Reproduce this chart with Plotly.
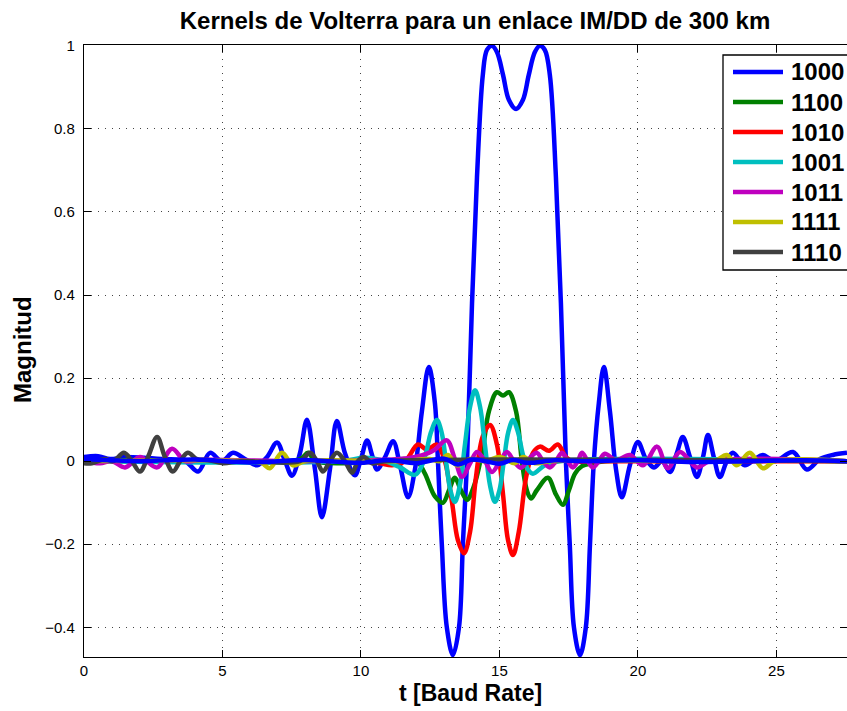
import plotly.graph_objects as go

# Volterra kernels for a 300 km IM/DD link (time in baud periods)
t_1000 = [0, 0.51, 0.94, 1.48, 2.20, 2.92, 3.65, 4.12, 4.55, 4.98, 5.38, 5.81, 6.25, 6.61, 6.97,
          7.26, 7.51, 7.80, 8.05, 8.34, 8.59, 8.88, 9.13, 9.42, 9.78, 10.00, 10.22, 10.40, 10.58,
          10.87, 11.16, 11.41, 11.70, 11.95, 12.20, 12.45, 12.67, 12.78, 12.92, 13.10, 13.32, 13.54,
          13.68, 13.83, 14.01, 14.19, 14.40, 14.55, 14.73, 14.91, 15.13, 15.34, 15.60, 15.85, 16.06,
          16.28, 16.46, 16.64, 16.82, 17.04, 17.22, 17.40, 17.54, 17.69, 17.91, 18.12, 18.27, 18.41,
          18.59, 18.77, 18.99, 19.21, 19.42, 19.71, 20.00, 20.29, 20.58, 20.87, 21.16, 21.41, 21.62,
          21.88, 22.13, 22.35, 22.53, 22.74, 22.96, 23.21, 23.43, 23.86, 24.22, 24.51, 24.95, 25.60,
          26.10, 26.57, 27.04, 27.55]
k_1000 = [0.01, 0.012, 0.005, 0.01, 0.008, 0.005, 0.0, -0.025, 0.02, 0.0, 0.02, 0.005, -0.01, 0.01,
          0.045, 0.0, -0.035, 0.02, 0.10, -0.02, -0.135, -0.02, 0.097, 0.02, -0.034, 0.005, 0.05,
          0.015, -0.02, 0.01, 0.048, -0.01, -0.087, -0.02, 0.12, 0.227, 0.14, 0.0, -0.2, -0.4, -0.467,
          -0.4, -0.2, 0.0, 0.38, 0.684, 0.93, 0.99, 1.0, 0.985, 0.93, 0.87, 0.848, 0.87, 0.93, 0.985,
          1.0, 0.99, 0.93, 0.684, 0.38, 0.0, -0.2, -0.4, -0.467, -0.4, -0.2, 0.0, 0.14, 0.227, 0.12,
          -0.02, -0.087, -0.01, 0.046, 0.005, -0.015, 0.0, -0.026, 0.02, 0.058, 0.01, -0.038, 0.01,
          0.063, 0.01, -0.038, 0.0, 0.02, -0.01, 0.005, 0.015, 0.0, 0.022, -0.02, 0.005, 0.015, 0.02]

t_1100 = [0, 1.59, 4.19, 7.80, 8.09, 8.38, 10.69, 11.59, 12.02, 12.31, 12.67, 12.96, 13.18, 13.39,
          13.61, 13.83, 14.08, 14.40, 14.62, 14.91, 15.13, 15.34, 15.60, 15.81, 15.99, 16.14, 16.35,
          16.75, 17.04, 17.29, 17.51, 17.73, 17.98, 18.34, 18.81, 27.55]
k_1100 = [0.0, 0.003, 0.0, 0.005, 0.02, 0.0, 0.0, 0.005, 0.0, -0.03, -0.085, -0.1, -0.07, -0.04,
          -0.07, -0.093, -0.06, 0.03, 0.12, 0.166, 0.158, 0.166, 0.12, 0.0, -0.07, -0.09, -0.07,
          -0.04, -0.08, -0.105, -0.07, -0.03, -0.012, -0.005, 0.0, 0.0]

t_1010 = [0, 7.80, 9.96, 10.69, 11.12, 11.59, 12.06, 12.38, 12.74, 13.03, 13.29, 13.50, 13.72, 13.94,
          14.15, 14.40, 14.66, 14.91, 15.13, 15.31, 15.49, 15.70, 15.96, 16.21, 16.46, 16.79, 17.11,
          17.40, 17.65, 18.63, 27.55]
k_1010 = [0.0, 0.0, 0.0, -0.005, -0.01, 0.0, 0.04, 0.028, 0.04, 0.0, -0.1, -0.19, -0.222, -0.17,
          -0.04, 0.06, 0.087, 0.04, -0.08, -0.19, -0.226, -0.17, -0.04, 0.02, 0.035, 0.025, 0.04,
          0.01, 0.0, 0.0, 0.0]

t_1001 = [0, 9.24, 10.14, 10.87, 11.41, 11.95, 12.17, 12.35, 12.53, 12.74, 12.91, 13.07, 13.23, 13.39,
          13.57, 13.75, 13.94, 14.12, 14.30, 14.48, 14.66, 14.84, 15.00, 15.16, 15.32, 15.49, 15.67,
          15.85, 16.03, 16.21, 16.64, 17.18, 27.55]
k_1001 = [0.0, 0.0, 0.008, 0.0, -0.015, -0.033, -0.015, 0.02, 0.07, 0.099, 0.07, 0.0, -0.07, -0.098,
          -0.058, 0.037, 0.131, 0.171, 0.131, 0.037, -0.058, -0.098, -0.07, 0.0, 0.07, 0.099, 0.07,
          0.015, -0.02, -0.03, -0.01, 0.0, 0.0]

t_1011 = [0, 0.58, 1.01, 1.48, 2.02, 2.64, 3.18, 3.65, 4.19, 7.80, 11.41, 11.95, 12.38, 12.67, 13.10,
          13.39, 13.65, 13.94, 14.19, 14.48, 14.73, 15.02, 15.27, 15.52, 15.78, 16.06, 16.35, 16.57,
          16.82, 17.04, 17.26, 17.47, 17.65, 17.83, 17.98, 18.19, 18.38, 18.59, 18.81, 19.21, 19.71,
          20.18, 20.69, 21.08, 21.52, 22.13, 22.60, 27.55]
k_1011 = [0.0, -0.005, 0.0, -0.015, 0.01, -0.015, 0.03, 0.0, 0.003, 0.0, 0.005, 0.01, 0.018, 0.028,
          0.05, 0.005, -0.038, -0.005, 0.022, 0.0, -0.026, 0.0, 0.022, 0.0, -0.016, 0.005, 0.02, 0.0,
          -0.015, 0.0, 0.02, 0.0, -0.015, 0.0, 0.02, 0.0, -0.015, 0.0, 0.018, 0.002, 0.015, -0.01,
          0.035, -0.017, 0.022, -0.015, 0.0, 0.0]

t_1111 = [0, 5.99, 6.43, 6.71, 7.15, 7.55, 7.98, 11.41, 12.49, 12.85, 13.14, 13.47, 13.94, 14.48,
          15.02, 15.56, 15.85, 16.28, 16.82, 22.24, 22.78, 23.21, 23.57, 24.04, 24.51, 24.95, 27.55]
k_1111 = [0.0, 0.0, -0.005, -0.017, 0.02, -0.01, 0.0, 0.0, 0.005, 0.0, 0.015, -0.01, 0.005, 0.0,
          0.01, -0.005, 0.01, -0.005, 0.0, 0.0, 0.0, 0.015, -0.01, 0.02, -0.017, 0.0, 0.0]

t_1110 = [0, 0.29, 0.76, 1.05, 1.44, 1.73, 2.02, 2.31, 2.64, 2.92, 3.21, 3.47, 3.75, 4.08, 4.48,
          5.02, 5.63, 7.80, 8.16, 8.41, 8.63, 8.88, 9.13, 9.42, 9.68, 9.89, 10.11, 10.40, 10.87, 27.55]
k_1110 = [-0.005, -0.005, 0.005, 0.0, 0.02, 0.0, -0.025, 0.01, 0.058, 0.01, -0.025, 0.0, 0.02,
          0.005, 0.003, -0.005, 0.0, 0.0, 0.02, 0.0, -0.025, 0.0, 0.02, 0.0, -0.028, 0.0, 0.01,
          -0.005, 0.0, 0.0]

t_1101 = [0, 2, 4, 6, 8, 10, 11, 12, 13, 13.5, 14, 14.5, 15, 15.5, 16, 17, 18, 20, 22, 24, 26, 27.55]
k_1101 = [0.005, 0.0, 0.004, -0.003, 0.003, -0.004, 0.003, -0.005, 0.006, -0.008, 0.004, 0.0,
          -0.006, 0.003, -0.004, 0.002, 0.0, 0.002, -0.002, 0.0, 0.002, 0.0]

series = [
    ("1000", t_1000, k_1000, "#0000FF", True),
    ("1100", t_1100, k_1100, "#008000", True),
    ("1010", t_1010, k_1010, "#FF0000", True),
    ("1001", t_1001, k_1001, "#00BFBF", True),
    ("1011", t_1011, k_1011, "#BF00BF", True),
    ("1111", t_1111, k_1111, "#BFBF00", True),
    ("1110", t_1110, k_1110, "#404040", True),
    ("1101", t_1101, k_1101, "#0000FF", False),
]

x_ticks = [0, 5, 10, 15, 20, 25]
y_ticks = [-0.4, -0.2, 0, 0.2, 0.4, 0.6, 0.8, 1]

FONT = "Liberation Sans, Arial, sans-serif"
W, H = 847, 711
M_L, M_R, M_T, M_B = 84, 0, 45, 54
PW, PH = W - M_L - M_R, H - M_T - M_B


def px_x(p):
    """Horizontal pixel position -> paper fraction."""
    return (p - M_L) / PW


def px_y(p):
    """Vertical pixel position (from top) -> paper fraction."""
    return (H - M_B - p) / PH


fig = go.Figure()
for name, tt, kk, color, in_legend in series:
    fig.add_trace(go.Scatter(
        x=tt, y=kk, name=name, mode="lines",
        line=dict(color=color, width=4.5, shape="spline", smoothing=1.0),
        showlegend=False,
    ))

# Boxed legend in the upper-right corner (MATLAB style, long line samples)
shapes = [dict(type="rect", xref="paper", yref="paper",
               x0=px_x(723), x1=px_x(900), y0=px_y(270), y1=px_y(55),
               line=dict(color="black", width=1.3), fillcolor="white", layer="above")]
annotations = []
row = 0
for name, tt, kk, color, in_legend in series:
    if not in_legend:
        continue
    yc = px_y(72 + 30 * row)
    shapes.append(dict(type="line", xref="paper", yref="paper",
                       x0=px_x(733), x1=px_x(783), y0=yc, y1=yc,
                       line=dict(color=color, width=4.5), layer="above"))
    annotations.append(dict(text="<b>%s</b>" % name, xref="paper", yref="paper",
                            x=px_x(789), y=yc, xanchor="left", yanchor="middle",
                            showarrow=False,
                            font=dict(family=FONT, size=24, color="black")))
    row += 1

annotations += [
    dict(text="<b>t [Baud Rate]</b>", xref="paper", yref="paper",
         x=px_x(470), y=px_y(693), xanchor="center", yanchor="middle",
         showarrow=False, font=dict(family=FONT, size=23, color="black")),
    dict(text="<b>Magnitud</b>", xref="paper", yref="paper",
         x=px_x(22), y=px_y(350), xanchor="center", yanchor="middle", textangle=-90,
         showarrow=False, font=dict(family=FONT, size=24, color="black")),
]

axis_common = dict(
    showline=True, linecolor="black", linewidth=1.2, mirror="ticks",
    ticks="inside", ticklen=7, tickcolor="black", tickwidth=1,
    showgrid=True, gridcolor="#444444", gridwidth=1, griddash="1px,6px",
    zeroline=False, tickfont=dict(family=FONT, size=15, color="black"),
)

fig.update_layout(
    width=W, height=H,
    margin=dict(l=M_L, r=M_R, t=M_T, b=M_B),
    paper_bgcolor="white", plot_bgcolor="white",
    font=dict(family=FONT, color="black"),
    showlegend=False,
    title=dict(
        text="<b>Kernels de Volterra para un enlace IM/DD de 300 km</b>",
        font=dict(family=FONT, size=24, color="black"),
        xref="paper", x=px_x(475), xanchor="center",
        yref="container", y=1 - 21 / H, yanchor="middle",
    ),
    xaxis=dict(range=[0, 27.55], tickvals=x_ticks, ticklabelstandoff=0, **axis_common),
    yaxis=dict(range=[-0.4715, 1.002], tickvals=y_ticks, ticklabelstandoff=5, **axis_common),
    shapes=shapes,
    annotations=annotations,
)

fig.write_html("out.html")
